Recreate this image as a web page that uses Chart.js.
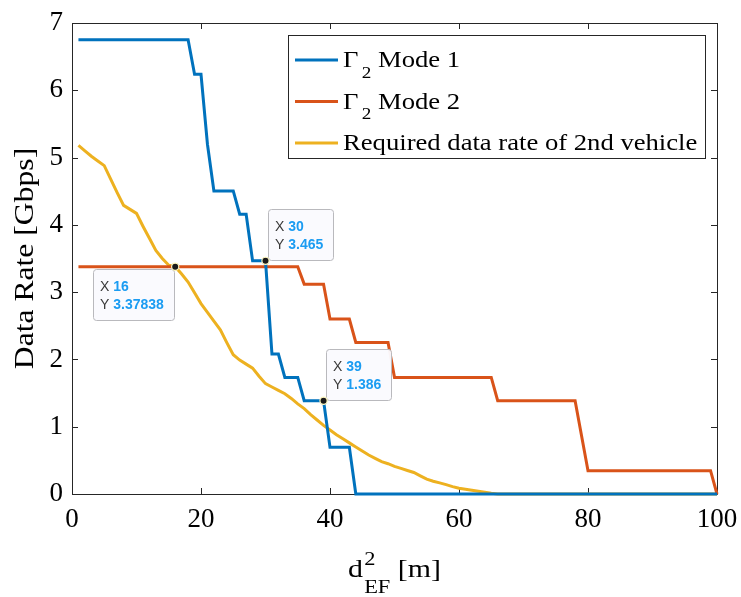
<!DOCTYPE html>
<html>
<head>
<meta charset="utf-8">
<title>Data rate vs distance</title>
<script src="https://cdn.jsdelivr.net/npm/chart.js@4.4.1/dist/chart.umd.min.js"></script>
<style>
  html, body { margin: 0; padding: 0; background: #fff; }
  canvas { display: block; }
</style>
</head>
<body>
<canvas id="rateChart" width="741" height="597"></canvas>
<script>
// Γ2 mode 1 (step curve, breakpoints only)
const modeOneX = [1, 18, 19, 20, 21, 22, 25, 26, 27, 28, 30, 31, 32, 33, 35, 36, 39, 40, 43, 44, 100];
const modeOneY = [6.75, 6.75, 6.237, 6.237, 5.198, 4.505, 4.505, 4.158, 4.158, 3.465, 3.465, 2.079, 2.079, 1.733, 1.733, 1.386, 1.386, 0.693, 0.693, 0, 0];

// Γ2 mode 2
const modeTwoX = [1, 35, 36, 39, 40, 43, 44, 49, 50, 65, 66, 78, 80, 99, 100];
const modeTwoY = [3.37838, 3.37838, 3.119, 3.119, 2.599, 2.599, 2.252, 2.252, 1.733, 1.733, 1.386, 1.386, 0.347, 0.347, 0];

// required data rate of the 2nd vehicle
const reqX = [1, 2, 3, 4, 5, 6, 7, 8, 9, 10, 11, 12, 13, 14, 15, 16, 17, 18, 19, 20,
              21, 22, 23, 24, 25, 26, 27, 28, 29, 30, 31, 32, 33, 34, 35, 36, 37, 38, 39, 40,
              41, 42, 43, 44, 45, 46, 47, 48, 49, 50, 51, 52, 53, 54, 55, 56, 57, 58, 59, 60,
              61, 62, 63, 64, 65, 66, 100];
const reqY = [5.18, 5.10, 5.02, 4.95, 4.88, 4.68, 4.48, 4.29, 4.23, 4.17, 3.98, 3.80, 3.62, 3.50, 3.40, 3.378, 3.27, 3.15, 2.99, 2.83,
              2.70, 2.57, 2.44, 2.25, 2.07, 1.99, 1.93, 1.87, 1.75, 1.64, 1.59, 1.54, 1.49, 1.42, 1.34, 1.27, 1.18, 1.10, 1.02, 0.95,
              0.88, 0.82, 0.76, 0.70, 0.64, 0.58, 0.53, 0.48, 0.45, 0.41, 0.38, 0.35, 0.32, 0.27, 0.22, 0.19, 0.165, 0.14, 0.11, 0.085,
              0.07, 0.055, 0.04, 0.025, 0.01, 0, 0];

const seriesNames = ['Γ_2 Mode 1', 'Γ_2 Mode 2', 'Required data rate of 2nd vehicle'];
const seriesColors = ['#0072BD', '#D95319', '#EDB120'];

const xTicks = [0, 20, 40, 60, 80, 100];
const yTicks = [0, 1, 2, 3, 4, 5, 6, 7];

// data tips
const tipX = [16, 30, 39];
const tipY = [3.37838, 3.465, 1.386];
const tipSide = ['left', 'right', 'right'];

const SERIF = '"Liberation Serif", "Times New Roman", serif';
const SANS = '"Liberation Sans", Arial, sans-serif';
const AXIS = '#262626';

function pts(xs, ys){ return xs.map((x, i) => ({ x: x, y: ys[i] })); }

// tiny TeX-ish text: _x / _{xx} subscript, ^x / ^{xx} superscript
function parseRich(str){
  const parts = [];
  let i = 0;
  while(i < str.length){
    const c = str[i];
    if(c === '^' || c === '_'){
      let t;
      if(str[i+1] === '{'){ const j = str.indexOf('}', i); t = str.slice(i+2, j); i = j+1; }
      else { t = str[i+1]; i += 2; }
      parts.push({ t: t, k: c });
    } else {
      let j = i;
      while(j < str.length && str[j] !== '^' && str[j] !== '_') j++;
      parts.push({ t: str.slice(i, j), k: '' });
      i = j;
    }
  }
  return parts;
}

// draws at (x, y) with optional horizontal stretch sx; returns drawn width
function drawRich(ctx, str, x, y, size, o){
  o = o || {};
  const sx = o.sx || 1;
  const parts = parseRich(str);
  const small = size * (o.scale || 0.7);
  const supDy = o.sup || size * 0.5, subDy = o.sub || size * 0.45;
  let cx = 0, scriptStart = 0;
  ctx.save();
  ctx.translate(x, y);
  ctx.scale(sx, 1);
  parts.forEach((p, i) => {
    const isScript = p.k !== '';
    ctx.font = (isScript ? small : size) + 'px ' + SERIF;
    const w = ctx.measureText(p.t).width;
    let px = cx;
    if(isScript){
      if(i === 0 || parts[i-1].k === '') scriptStart = cx + (o.gap || 1);
      px = scriptStart;
    }
    const py = p.k === '^' ? -supDy : (p.k === '_' ? subDy : 0);
    if(!o.measure) ctx.fillText(p.t, px, py);
    cx = Math.max(cx, px + w);
  });
  ctx.restore();
  return cx * sx;
}

// axes box with inward ticks on all four sides
const axesBox = {
  id: 'axesBox',
  beforeDatasetsDraw(chart){
    const { ctx, chartArea: a, scales: { x, y } } = chart;
    ctx.save();
    ctx.strokeStyle = AXIS;
    ctx.lineWidth = 1;
    ctx.beginPath();
    ctx.rect(Math.round(a.left) + 0.5, Math.round(a.top) + 0.5, Math.round(a.width), Math.round(a.height));
    xTicks.forEach(v => {
      const px = Math.round(x.getPixelForValue(v)) + 0.5;
      ctx.moveTo(px, a.bottom); ctx.lineTo(px, a.bottom - 6);
      ctx.moveTo(px, a.top); ctx.lineTo(px, a.top + 6);
    });
    yTicks.forEach(v => {
      const py = Math.round(y.getPixelForValue(v)) + 0.5;
      ctx.moveTo(a.left, py); ctx.lineTo(a.left + 6, py);
      ctx.moveTo(a.right, py); ctx.lineTo(a.right - 6, py);
    });
    ctx.stroke();
    ctx.restore();
  }
};

function roundRect(ctx, x, y, w, h, r){
  ctx.beginPath();
  ctx.moveTo(x + r, y);
  ctx.arcTo(x + w, y, x + w, y + h, r);
  ctx.arcTo(x + w, y + h, x, y + h, r);
  ctx.arcTo(x, y + h, x, y, r);
  ctx.arcTo(x, y, x + w, y, r);
  ctx.closePath();
}

// axis titles, legend and data tips
const overlays = {
  id: 'overlays',
  afterDraw(chart){
    const { ctx, chartArea: a, scales: { x, y } } = chart;
    ctx.save();
    ctx.fillStyle = '#000';
    ctx.textBaseline = 'alphabetic';
    ctx.textAlign = 'left';

    // y title
    ctx.save();
    ctx.translate(33, (a.top + a.bottom) / 2);
    ctx.rotate(-Math.PI / 2);
    const yTitle = 'Data Rate [Gbps]';
    const yw = drawRich(ctx, yTitle, 0, 0, 28, { sx: 1.13, measure: true });
    drawRich(ctx, yTitle, -yw / 2, 0, 28, { sx: 1.13 });
    ctx.restore();

    // x title
    const xTitle = 'd^2_{EF} [m]';
    const xOpts = { sup: 12.5, sub: 16, scale: 0.75, sx: 1.15 };
    const tw = drawRich(ctx, xTitle, 0, 0, 26, Object.assign({ measure: true }, xOpts));
    drawRich(ctx, xTitle, (a.left + a.right) / 2 - tw / 2, 577, 26, xOpts);

    // legend
    const lx = 288.5, ly = 35.5, lw = 417, lh = 123;
    ctx.fillStyle = '#fff';
    ctx.fillRect(lx, ly, lw, lh);
    ctx.strokeStyle = AXIS;
    ctx.lineWidth = 1;
    ctx.strokeRect(lx, ly, lw, lh);
    const rowY = [60, 101.5, 143];
    chart.data.datasets.forEach((ds, i) => {
      ctx.strokeStyle = ds.borderColor;
      ctx.lineWidth = 3;
      ctx.beginPath();
      ctx.moveTo(295, rowY[i]);
      ctx.lineTo(338, rowY[i]);
      ctx.stroke();
      ctx.fillStyle = '#000';
      drawRich(ctx, ds.label, 343, rowY[i] + 7, 24, { sub: 10.5, scale: 0.72, gap: 3, sx: 1.11 });
    });

    // data tips
    tipX.forEach((tx, i) => {
      const px = x.getPixelForValue(tx), py = y.getPixelForValue(tipY[i]);
      const l1 = String(tx), l2 = String(tipY[i]);
      ctx.font = '14px ' + SANS;
      const lab = ctx.measureText('X ').width;
      ctx.font = 'bold 14px ' + SANS;
      const vw = Math.max(ctx.measureText(l1).width, ctx.measureText(l2).width);
      const w = Math.round(lab + vw + 17), h = 51;
      const bx = tipSide[i] === 'left' ? Math.round(px) - w - 1 : Math.round(px) + 2;
      const by = tipSide[i] === 'left' ? Math.round(py) + 2 : Math.round(py) - h - 1;
      roundRect(ctx, bx + 0.5, by + 0.5, w, h, 3);
      ctx.fillStyle = 'rgba(250,250,254,0.96)';
      ctx.fill();
      ctx.strokeStyle = '#b9b9bd';
      ctx.lineWidth = 1;
      ctx.stroke();
      ctx.font = '14px ' + SANS;
      ctx.fillStyle = '#3a3a3a';
      ctx.fillText('X', bx + 7, by + 21.5);
      ctx.fillText('Y', bx + 7, by + 39.5);
      ctx.font = 'bold 14px ' + SANS;
      ctx.fillStyle = '#1b9cf2';
      ctx.fillText(l1, bx + 7 + lab, by + 21.5);
      ctx.fillText(l2, bx + 7 + lab, by + 39.5);
      // marker
      ctx.beginPath();
      ctx.arc(px, py, 3.6, 0, Math.PI * 2);
      ctx.fillStyle = '#1a1a1a';
      ctx.fill();
      ctx.strokeStyle = '#fff8c0';
      ctx.lineWidth = 1.2;
      ctx.stroke();
    });
    ctx.restore();
  }
};

const lineSet = (i, xs, ys) => ({
  label: seriesNames[i],
  data: pts(xs, ys),
  borderColor: seriesColors[i],
  backgroundColor: seriesColors[i],
  borderWidth: 3,
  pointRadius: 0,
  tension: 0,
  fill: false,
  clip: 4
});

const tickFont = { family: SERIF, size: 27 };

new Chart(document.getElementById('rateChart').getContext('2d'), {
  type: 'line',
  data: {
    datasets: [
      lineSet(0, modeOneX, modeOneY),
      lineSet(1, modeTwoX, modeTwoY),
      lineSet(2, reqX, reqY)
    ]
  },
  options: {
    responsive: false,
    animation: false,
    devicePixelRatio: 1,
    layout: { padding: { top: 23, right: 24, left: 0, bottom: 0 } },
    plugins: { legend: { display: false }, tooltip: { enabled: false } },
    scales: {
      x: {
        type: 'linear', min: 0, max: 100,
        afterFit: s => { s.height = 103; s.paddingLeft = 0; s.paddingRight = 0; },
        afterBuildTicks: s => { s.ticks = xTicks.map(v => ({ value: v })); },
        ticks: { font: tickFont, color: '#000', padding: 10, maxRotation: 0 },
        grid: { display: false, drawTicks: false, tickLength: 0 },
        border: { display: false }
      },
      y: {
        type: 'linear', min: 0, max: 7,
        afterFit: s => { s.width = 72; s.paddingTop = 0; s.paddingBottom = 0; },
        afterBuildTicks: s => { s.ticks = yTicks.map(v => ({ value: v })); },
        ticks: { font: tickFont, color: '#000', padding: 9 },
        grid: { display: false, drawTicks: false, tickLength: 0 },
        border: { display: false }
      }
    }
  },
  plugins: [axesBox, overlays]
});
</script>
</body>
</html>
